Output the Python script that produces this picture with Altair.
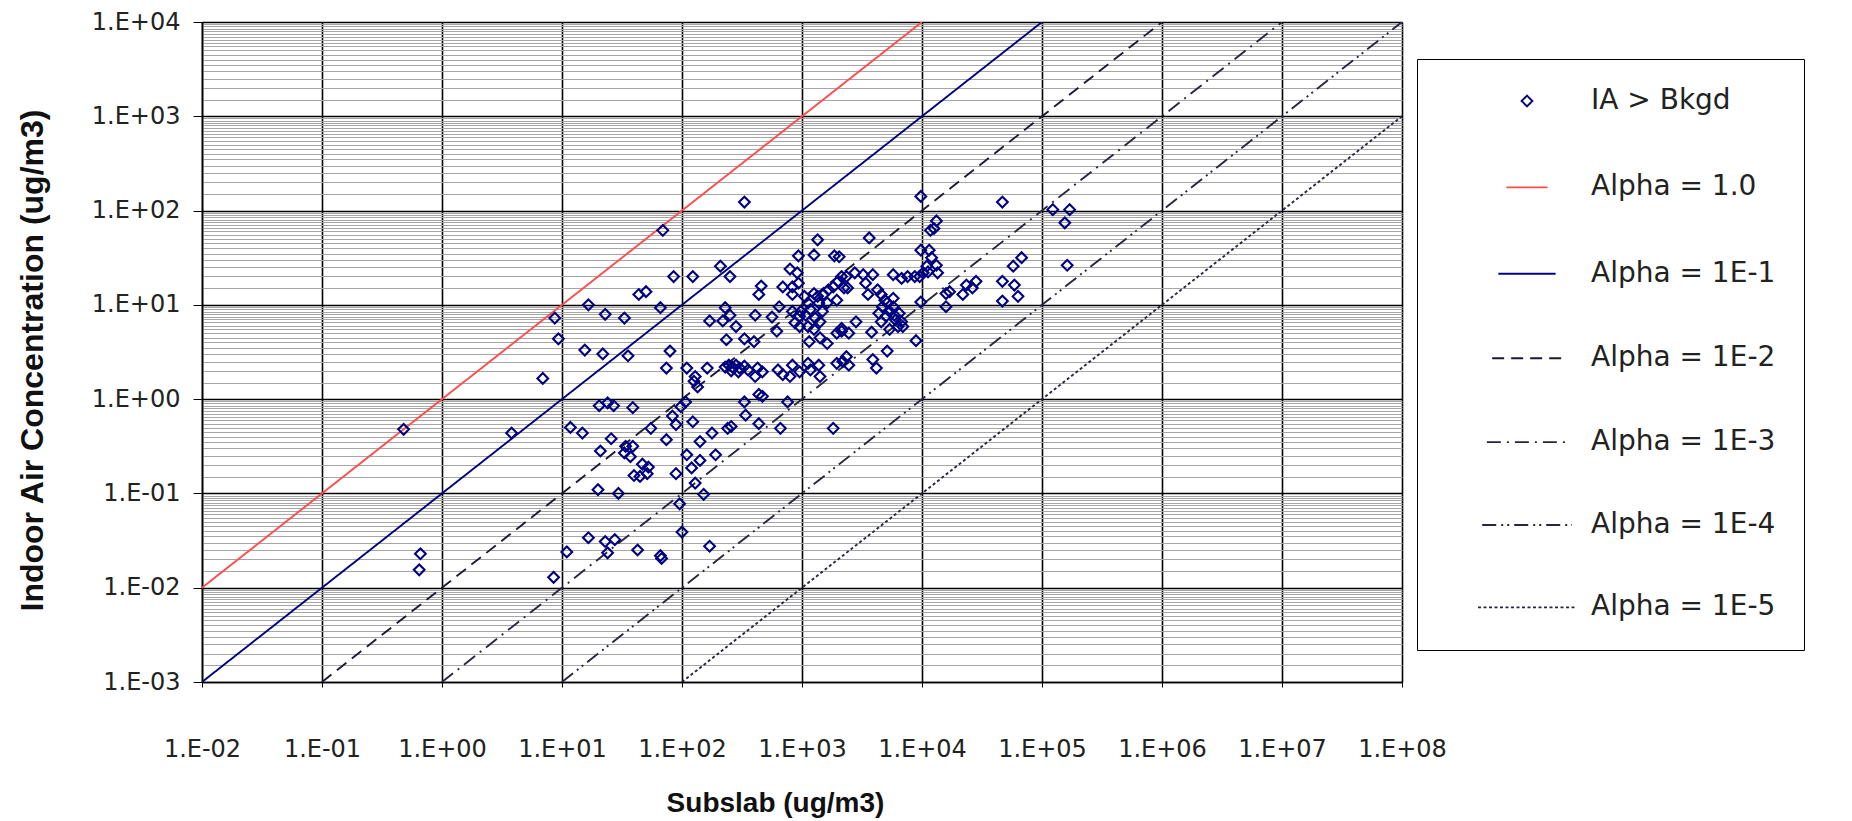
import altair as alt
import pandas as pd

# ---------------- data (log10 of the values) ----------------
subslab_log10 = [
    # group A
    0.94, 0.97, 0.84, 1.22, 1.36, 1.19, 1.34,
    # group B
    2.52, 1.84, 3.13, 2.97, 3.10, 3.27,
    1.93, 2.09, 2.32, 2.40, 2.90, 2.96,
    2.66, 2.64, 2.84, 2.92, 2.97, 2.92,
    1.64, 1.70, 1.82, 1.52, 1.55, 1.90,
    1.87, 2.04, 2.11, 2.13, 2.21,
    2.36, 2.40, 2.23, 2.34, 2.45, 2.37,
    2.52, 2.60, 2.61, 2.75, 2.81, 2.79,
    # group C
    2.63, 2.67, 2.61, 2.80, 2.84, 2.90,
    2.98, 2.92, 3.05, 3.07, 3.14, 3.15,
    3.06, 3.15, 3.21, 3.29, 3.33, 3.29,
    # group D
    2.99, 3.03, 3.07, 2.98, 3.11, 3.05,
    3.14, 3.18, 3.22, 3.26, 3.30, 3.33,
    3.35, 3.29, 3.21, 3.17, 3.15, 3.05,
    2.98, 3.10, 2.94, 2.92, 3.02, 3.10, 3.13,
    # group E
    2.36, 2.39, 2.42, 2.45, 2.48, 2.52, 2.55, 2.41, 2.47,
    # group F
    3.99, 4.67, 5.09, 5.23, 5.19, 5.21,
    4.12, 4.10, 4.07, 3.56,
    3.99, 4.06, 4.08, 4.04, 4.12, 4.13,
    4.05, 3.98, 4.01, 3.76, 3.83, 3.88, 3.94,
    3.31, 3.37, 3.44, 3.51, 3.59, 3.38, 3.53, 3.55,
    3.45, 3.58, 3.39, 3.33, 3.95,
    3.37, 3.39, 3.59, 3.62, 3.71, 3.34,
    3.99, 4.20, 4.23, 4.20, 4.34, 4.37, 4.45, 4.42,
    4.67, 4.77, 4.80, 4.67, 4.76, 4.83,
    # group G
    3.63, 3.66, 3.69, 3.67, 3.71, 3.73,
    3.76, 3.77, 3.78, 3.70, 3.66, 3.81,
    3.83, 3.80, 3.73, 3.84, 3.64, 3.76,
    # group H
    -0.32, 0.58, -0.18, -0.19,
    1.31, 1.38, 1.43, 1.07, 1.17, 1.41,
    1.32, 1.30, 1.47, 1.22, 1.36, 1.38,
    1.44, 1.04, 0.93,
    # group I
    1.59, 1.74, 1.87, 1.92, 1.95, 1.99,
    2.03, 2.09, 1.53, 1.59, 1.57, 1.52,
    1.67, 1.71, 1.60, 1.65, 1.72, 1.95,
    2.04, 2.15, 2.08, 2.11, 2.18, 2.15,
    2.25, 2.28, 2.38, 2.41, 2.52, 2.53,
    2.64, 2.67, 2.64, 2.82, 2.88, 3.26,
    1.98, 2.00, 1.63, 1.82, 1.83, 2.23, 2.10,
]

indoor_log10 = [
    # group A
    0.86, 0.64, 0.22, 1.00, 0.90, 0.52, 0.48,
    # group B
    2.09, 1.79, 1.69, 1.52, 1.53, 1.52,
    1.30, 1.30, 1.41, 1.30, 1.38, 1.34,
    1.20, 1.11, 1.19, 1.19, 1.23, 1.11,
    1.11, 1.14, 0.97, 0.86, 0.46, 0.51,
    0.33, 0.33, 0.24, 0.13, 0.33,
    0.97, 0.89, 0.83, 0.83, 0.77, 0.63,
    0.64, 0.61, 0.89, 0.87, 0.98, 0.72,
    # group C
    0.33, 0.29, 0.24, 0.31, 0.26, 0.24,
    0.29, 0.36, 0.38, 0.31, 0.36, 0.24,
    0.61, 0.65, 0.59, 0.70, 0.75, 0.38,
    # group D
    0.93, 0.89, 0.95, 0.88, 0.86, 1.02,
    1.02, 1.11, 1.16, 1.19, 1.25, 1.30,
    1.18, 1.05, 1.02, 0.93, 0.82, 0.77,
    0.77, 0.74, 0.81, 0.93, 1.09, 1.12, 1.09,
    # group E
    0.34, 0.36, 0.34, 0.36, 0.33, 0.35, 0.31, 0.30, 0.29,
    # group F
    2.15, 2.09, 2.01, 2.01, 1.87, 1.42,
    1.89, 1.81, 1.79, 1.71,
    1.58, 1.58, 1.50, 1.41, 1.42, 1.34,
    1.35, 1.30, 1.34, 1.32, 1.28, 1.30, 1.30,
    1.51, 1.30, 1.34, 1.32, 1.32, 1.18, 1.23, 1.11,
    0.82, 0.71, 0.70, 0.72, 0.62,
    0.45, 0.36, 0.42, 0.33, 0.51, 0.40,
    1.03, 1.12, 1.14, 0.98, 1.11, 1.21, 1.25, 1.18,
    1.25, 1.21, 1.09, 1.04, 1.41, 1.50,
    # group G
    1.16, 1.11, 1.05, 0.98, 1.02, 0.93,
    0.98, 0.89, 0.84, 0.88, 0.82, 0.91,
    0.82, 0.77, 0.74, 0.77, 0.91, 1.07,
    # group H
    -0.32, -0.36, -1.64, -1.81,
    -0.07, -0.04, -0.07, -0.30, -0.36, -0.42,
    -0.55, -0.96, -1.00, -1.47, -1.51, -1.63,
    -1.49, -1.62, -1.89,
    # group I
    -0.09, -0.31, -0.43, -0.18, -0.27, -0.08,
    -0.03, -0.24, -0.50, -0.50, -0.61, -0.57,
    -0.69, -0.79, -0.81, -0.82, -0.72, -0.79,
    -0.59, -0.65, -0.73, -0.89, -1.01, -0.45,
    -0.36, -0.59, -0.31, -0.29, -0.03, -0.17,
    0.05, 0.03, -0.26, -0.31, -0.03, -0.31,
    -1.11, -1.41, -1.60, -1.66, -1.69, -1.56, 0.19,
]

point_label = "IA > Bkgd"
alpha_labels = ["Alpha = 1.0", "Alpha = 1E-1", "Alpha = 1E-2",
                "Alpha = 1E-3", "Alpha = 1E-4", "Alpha = 1E-5"]
alpha_values = [1.0, 1e-1, 1e-2, 1e-3, 1e-4, 1e-5]
line_x_start = [1e-2, 1e-2, 1e-1, 1e0, 1e1, 1e2]
line_x_end = [1e4, 1e5, 1e6, 1e7, 1e8, 1e8]

x_tick_values = [1e-2, 1e-1, 1e0, 1e1, 1e2, 1e3, 1e4, 1e5, 1e6, 1e7, 1e8]
x_tick_labels = ["1.E-02", "1.E-01", "1.E+00", "1.E+01", "1.E+02", "1.E+03",
                 "1.E+04", "1.E+05", "1.E+06", "1.E+07", "1.E+08"]
y_tick_values = [1e-3, 1e-2, 1e-1, 1e0, 1e1, 1e2, 1e3, 1e4]
y_tick_labels = ["1.E-03", "1.E-02", "1.E-01", "1.E+00", "1.E+01", "1.E+02",
                 "1.E+03", "1.E+04"]
y_minor_mantissas = [1.5, 2, 2.5, 3, 3.5, 4, 4.5, 5, 5.5, 6, 6.5, 7, 7.5, 8, 8.5, 9, 9.5]

# ---------------- tables ----------------
points = pd.DataFrame({
    "x": [10 ** v for v in subslab_log10],
    "y": [10 ** v for v in indoor_log10],
    "series": point_label,
})

rows = []
for lab, a, x0, x1 in zip(alpha_labels, alpha_values, line_x_start, line_x_end):
    rows.append({"x": x0, "y": a * x0, "series": lab})
    rows.append({"x": x1, "y": a * x1, "series": lab})
lines = pd.DataFrame(rows)

series_domain = [point_label] + alpha_labels
series_colors = ["#000080", "#ff4b4b", "#000080", "#1a1a36", "#262640", "#262640", "#262640"]
series_dash = [[1, 0], [1, 0], [1, 0], [12, 7], [14, 6, 2, 6], [14, 5, 2, 4, 2, 5], [3, 2.5]]
series_shape = ["diamond", "stroke", "stroke", "stroke", "stroke", "stroke", "stroke"]
series_size = [115, 9604, 9604, 9604, 9604, 9604, 9604]

y_all_ticks = list(y_tick_values) + [m * d for d in y_tick_values[:-1] for m in y_minor_mantissas]


def label_expr(values, labels):
    expr = "''"
    for v, lab in reversed(list(zip(values, labels))):
        expr = f"abs(datum.value - {v!r}) < {v!r} * 1e-6 ? '{lab}' : ({expr})"
    return expr


is_decade = "abs(log(datum.value) / LN10 - round(log(datum.value) / LN10)) < 0.001"

FONT = "DejaVu Sans"
TITLE_FONT = "Liberation Sans"

x_scale = alt.Scale(type="log", domain=[1e-2, 1e8], nice=False)
y_scale = alt.Scale(type="log", domain=[1e-3, 1e4], nice=False)

x_axis = alt.Axis(
    values=x_tick_values,
    labelExpr=label_expr(x_tick_values, x_tick_labels),
    title="Subslab (ug/m3)",
    grid=True, gridColor="#000000", gridWidth=1.6,
    domainColor="#000000", domainWidth=1.6,
    tickColor="#000000", tickSize=5,
    labelPadding=50, labelFont=FONT, labelFontSize=24, labelColor="#222222",
    labelFlush=False, labelOverlap=False,
    titleFont=TITLE_FONT, titleFontSize=28, titleFontWeight="bold", titleColor="#111111",
    titleX=573, titleY=121, titleBaseline="middle", titleAlign="center",
)

y_axis = alt.Axis(
    values=y_all_ticks,
    labelExpr=label_expr(y_tick_values, y_tick_labels),
    title="Indoor Air Concentration  (ug/m3)",
    grid=True,
    gridColor={"condition": {"test": is_decade, "value": "#000000"}, "value": "#a6a6a6"},
    gridWidth={"condition": {"test": is_decade, "value": 1.6}, "value": 1.0},
    domainColor="#000000", domainWidth=1.6,
    tickColor="#000000", tickSize=9,
    tickOpacity={"condition": {"test": is_decade, "value": 1}, "value": 0},
    labelPadding=13, labelFont=FONT, labelFontSize=24, labelColor="#222222",
    labelFlush=False, labelOverlap=False,
    titleFont=TITLE_FONT, titleFontSize=32, titleFontWeight="bold", titleColor="#111111",
    titleX=-170, titleY=338, titleBaseline="middle", titleAlign="center", titleAngle=270,
)

legend = alt.Legend(title=None)

line_layer = alt.Chart(lines).mark_line(strokeWidth=1.9, clip=True).encode(
    x=alt.X("x:Q", scale=x_scale, axis=x_axis),
    y=alt.Y("y:Q", scale=y_scale, axis=y_axis),
    color=alt.Color("series:N", scale=alt.Scale(domain=series_domain, range=series_colors), legend=legend),
    strokeDash=alt.StrokeDash("series:N", scale=alt.Scale(domain=series_domain, range=series_dash), legend=legend),
)

point_layer = alt.Chart(points).mark_point(filled=False, strokeWidth=2.1, opacity=1).encode(
    x=alt.X("x:Q", scale=x_scale, axis=x_axis),
    y=alt.Y("y:Q", scale=y_scale, axis=y_axis),
    color=alt.Color("series:N", scale=alt.Scale(domain=series_domain, range=series_colors), legend=legend),
    shape=alt.Shape("series:N", scale=alt.Scale(domain=series_domain, range=series_shape), legend=legend),
    size=alt.Size("series:N", scale=alt.Scale(domain=series_domain, range=series_size), legend=legend),
)

chart = (
    alt.layer(line_layer, point_layer)
    .properties(
        width=1200, height=660,
        autosize=alt.AutoSizeParams(type="none"),
        padding={"left": 202, "top": 22, "right": 450, "bottom": 139},
        background="white",
    )
    .configure_view(stroke=None)
    .configure_legend(
        orient="none", legendX=1215, legendY=37,
        labelFont=FONT, labelFontSize=28, labelColor="#222222", labelOffset=14,
        labelLimit=400, gridAlign="all",
        rowPadding=14.4, padding=28, symbolOffset=32,
        strokeColor="#000000", fillColor="#ffffff",
        symbolStrokeWidth=1.9,
    )
)

chart.save("out.html", embed_options={"renderer": "svg", "actions": False})
